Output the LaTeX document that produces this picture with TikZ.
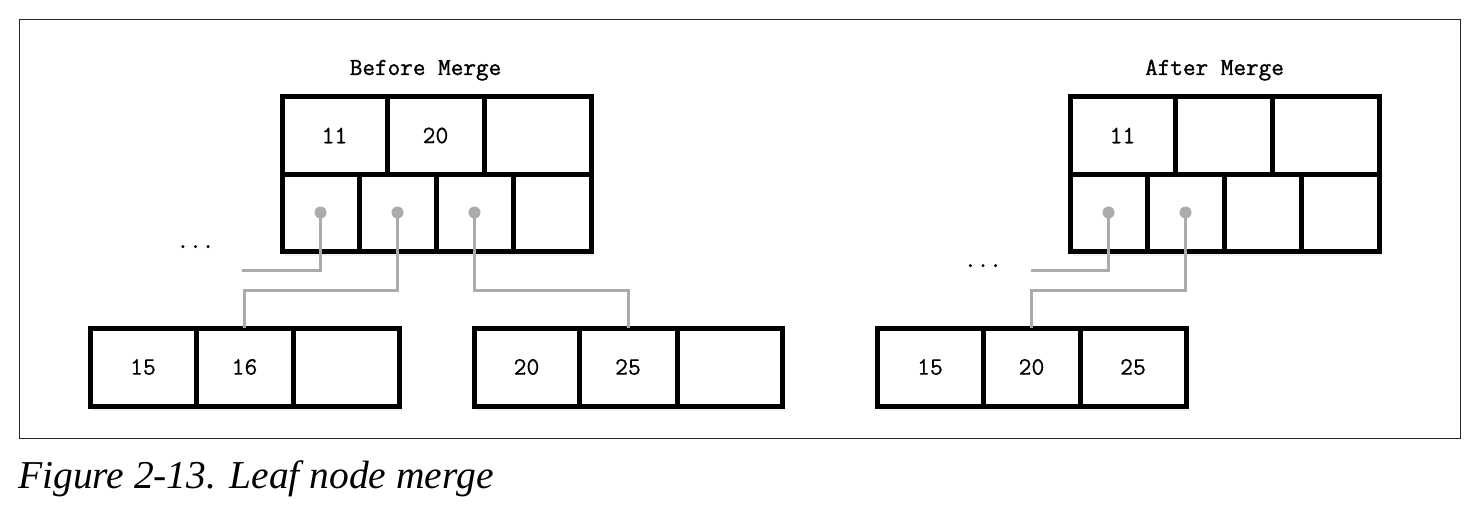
\documentclass[tikz,border=0pt]{standalone}
\usepackage{fontspec}
\newfontfamily\captionfont{Liberation Serif}
\newfontfamily\celltt[FakeBold=0.6]{Latin Modern Mono}
\newfontfamily\titlett[FakeBold=1.2]{Latin Modern Mono}
\usetikzlibrary{shadows}
\newcommand\celltext{\celltt\fontsize{25}{30}\selectfont}
\newcommand\titletext{\titlett\fontsize{24.5}{30}\selectfont}
\tikzset{
  cell/.style   = {draw, line width=5pt, fill=white, inner sep=0pt, outer sep=0pt,
                   font=\celltext,
                   drop shadow={opacity=0.12, shadow xshift=3pt, shadow yshift=-5pt}},
  keycell/.style  = {cell, minimum height=77pt},
  leafcell/.style = {cell, minimum height=78pt},
  ptr/.style    = {draw=black!33, line width=3pt},
  ptrdot/.style = {fill=black!33},
  title/.style  = {font=\titletext, anchor=base, inner sep=0pt},
  dots/.style   = {font=\titletext, anchor=base, inner sep=0pt},
  frame/.style  = {draw=black!85, line width=1pt}
}
\begin{document}
\begin{tikzpicture}[x=1pt, y=-1pt]
    \useasboundingbox (0,0) rectangle (1480,524);
    \draw[frame] (19,20) rectangle (1460,438);
    % before merge
    \node[title] (btitle) at (425.5,75) {Before Merge};
    \node[keycell, minimum width=105pt] (bk1) at (334.5,135.5) {11};
    \node[keycell, minimum width=97pt]  (bk2) at (435.5,135.5) {20};
    \node[keycell, minimum width=107pt] (bk3) at (537.5,135.5) {};
    \node[keycell, minimum width=77pt]  (bp1) at (320.5,212.5) {};
    \node[keycell, minimum width=77pt]  (bp2) at (397.5,212.5) {};
    \node[keycell, minimum width=77pt]  (bp3) at (474.5,212.5) {};
    \node[keycell, minimum width=78pt]  (bp4) at (552,212.5) {};
    \node[dots] (bdots) at (195.5,248) {...};
    \node[leafcell, minimum width=106pt] (la1) at (143,367) {15};
    \node[leafcell, minimum width=97pt]  (la2) at (244.5,367) {16};
    \node[leafcell, minimum width=106pt] (la3) at (346,367) {};
    \node[leafcell, minimum width=105pt] (lb1) at (526.5,367) {20};
    \node[leafcell, minimum width=98pt]  (lb2) at (628,367) {25};
    \node[leafcell, minimum width=105pt] (lb3) at (729.5,367) {};
    \coordinate (bfree) at (242,270);
    \draw[ptr] (bp1.center) |- (bfree);
    \draw[ptr] (bp2.center) -- (bp2.center |- 0,290) -| (la2.north);
    \draw[ptr] (bp3.center) -- (bp3.center |- 0,290) -| (lb2.north);
    \fill[ptrdot] (bp1.center) circle (6pt);
    \fill[ptrdot] (bp2.center) circle (6pt);
    \fill[ptrdot] (bp3.center) circle (6pt);
    % after merge
    \node[title] (atitle) at (1214.5,75) {After Merge};
    \node[keycell, minimum width=105pt] (ak1) at (1122.5,135.5) {11};
    \node[keycell, minimum width=97pt]  (ak2) at (1223.5,135.5) {};
    \node[keycell, minimum width=107pt] (ak3) at (1325.5,135.5) {};
    \node[keycell, minimum width=77pt]  (ap1) at (1108.5,212.5) {};
    \node[keycell, minimum width=77pt]  (ap2) at (1185.5,212.5) {};
    \node[keycell, minimum width=77pt]  (ap3) at (1262.5,212.5) {};
    \node[keycell, minimum width=78pt]  (ap4) at (1340,212.5) {};
    \node[dots] (adots) at (983,267) {...};
    \node[leafcell, minimum width=106pt] (lm1) at (930,367) {15};
    \node[leafcell, minimum width=97pt]  (lm2) at (1031.5,367) {20};
    \node[leafcell, minimum width=106pt] (lm3) at (1133,367) {25};
    \coordinate (afree) at (1031,270);
    \draw[ptr] (ap1.center) |- (afree);
    \draw[ptr] (ap2.center) -- (ap2.center |- 0,290) -| (lm2.north);
    \fill[ptrdot] (ap1.center) circle (6pt);
    \fill[ptrdot] (ap2.center) circle (6pt);
    % caption
    \node[anchor=base west, inner sep=0pt, font=\captionfont\itshape\fontsize{39.5}{46}\selectfont]
        (caption) at (18,488) {Figure 2-13. Leaf node merge};
\end{tikzpicture}
\end{document}
